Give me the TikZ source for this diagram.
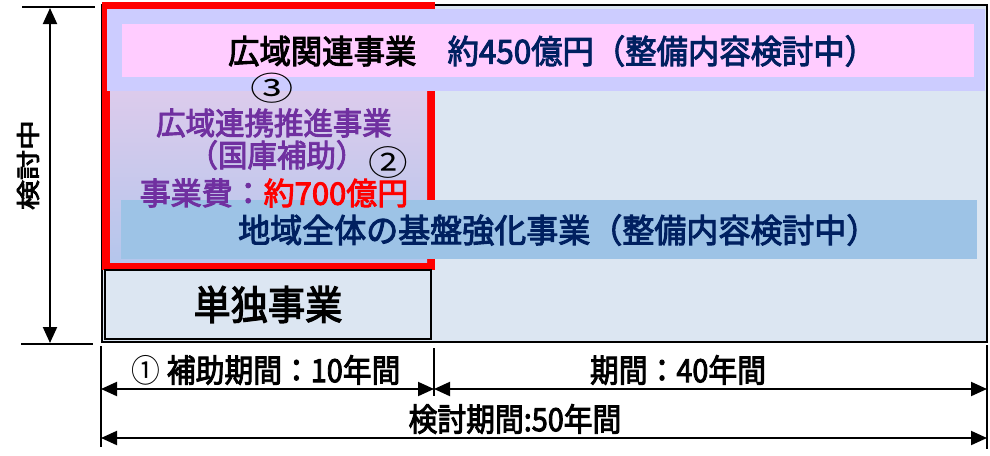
\documentclass[tikz,border=0pt]{standalone}
\usepackage{fontspec}
\setmainfont{Noto Sans CJK JP}
\newfontfamily\jpm[FakeBold=3]{Noto Sans CJK JP}
\newfontfamily\jpr{Noto Sans CJK JP}
\usetikzlibrary{arrows.meta}
\definecolor{lightbg}{HTML}{DCE6F2}
\definecolor{lav}{HTML}{CCCCFF}
\definecolor{pinkband}{HTML}{FFCCFF}
\definecolor{blueband}{HTML}{9DC3E6}
\definecolor{navy}{HTML}{002060}
\definecolor{purp}{HTML}{7030A0}
\definecolor{gradtop}{HTML}{DCCBEC}
\definecolor{gradbot}{HTML}{B5C6EC}
\newcommand{\fs}[1]{\fontsize{#1}{#1}\selectfont}
\newcommand{\sqz}[2]{\scalebox{#1}[1]{#2}}
\begin{document}
\begin{tikzpicture}[x=1pt,y=-1pt,
  dimarrow/.style={line width=2pt, {Triangle[length=16pt,width=14pt]}-{Triangle[length=16pt,width=14pt]}},
  tickline/.style={line width=2pt},
  txt/.style={inner sep=0pt, font=\jpm},
  circ/.style={inner sep=0pt, font=\jpr},
  band/.style={draw=none}
]
\useasboundingbox (0,0) rectangle (990,455);
\fill[white] (0,0) rectangle (990,455);

% outer box
\draw[line width=2.5pt, fill=lightbg] (102,5) rectangle (987,342);
% red frame
\draw[red, line width=8pt] (105.5,5.5) rectangle (431,266);
% gradient column
\shade[band, top color=gradtop, bottom color=gradbot] (110,91) rectangle (427,262);
% lavender band
\fill[lav] (107,8.5) rectangle (985,91);
% pink band
\fill[pinkband] (122,24) rectangle (974,77);
% blue band
\fill[blueband] (121,200) rectangle (977,259);

% single project box
\node[draw, line width=1.5pt, fill=lightbg, minimum width=326pt, minimum height=69pt, inner sep=0pt, font=\jpm\fs{40}] (tandoku) at (268,304.5) {\sqz{0.93}{単独事業}};

% texts
\node[txt, anchor=west] (kouiki) at (228,51) {\fs{33}\sqz{0.95}{広域関連事業　\textcolor{navy}{約450億円（整備内容検討中）}}};
\node[circ] (c3) at (272,88) {\fs{36}\scalebox{1.2}[0.9]{③}};
\node[txt, purp] (renkei) at (274,123) {\fs{31}\sqz{0.95}{広域連携推進事業}};
\node[txt, purp] (kokko) at (277,155) {\fs{31}\sqz{0.95}{（国庫補助）}};
\node[circ] (c2) at (388,163) {\fs{36}\scalebox{1.1}[0.95]{②}};
\node[txt, purp] (hi) at (274,193) {\fs{31}事業費：\textcolor{red}{約700億円}};
\node[txt, navy, anchor=west] (kiban) at (238,230) {\fs{33}\sqz{0.97}{地域全体の基盤強化事業（整備内容検討中）}};

% left vertical dimension
\coordinate (vt1) at (22,7);
\coordinate (vt2) at (95,7);
\coordinate (vb1) at (21,344);
\coordinate (vb2) at (93,344);
\coordinate (va1) at (50,8);
\coordinate (va2) at (50,343);
\draw[tickline] (vt1) -- (vt2);
\draw[tickline] (vb1) -- (vb2);
\draw[dimarrow] (va1) -- (va2);
\node[txt, rotate=90] (kentou) at (28,165) {\fs{30}\scalebox{1}[0.8]{検討中}};

% bottom dimensions
\coordinate (t1a) at (101,346);
\coordinate (t1b) at (101,447);
\coordinate (t2a) at (434,348);
\coordinate (t2b) at (434,396);
\coordinate (t3a) at (987,345);
\coordinate (t3b) at (987,449);
\draw[tickline] (t1a) -- (t1b);
\draw[tickline] (t2a) -- (t2b);
\draw[tickline] (t3a) -- (t3b);
\coordinate (r1a) at (101,389);
\coordinate (r1b) at (434,389);
\coordinate (r1c) at (987,389);
\coordinate (r2a) at (101,438);
\coordinate (r2b) at (987,438);
\draw[dimarrow] (r1a) -- (r1b);
\draw[dimarrow] (r1b) -- (r1c);
\draw[dimarrow] (r2a) -- (r2b);

\node[txt] (hojo) at (266,370) {\fs{32}\sqz{0.9}{{\jpr ①} 補助期間：10年間}};
\node[txt] (kikan) at (678,370) {\fs{32}\sqz{0.9}{期間：40年間}};
\node[txt] (kentoukikan) at (515,419) {\fs{32}\sqz{0.9}{検討期間:50年間}};
\end{tikzpicture}
\end{document}
